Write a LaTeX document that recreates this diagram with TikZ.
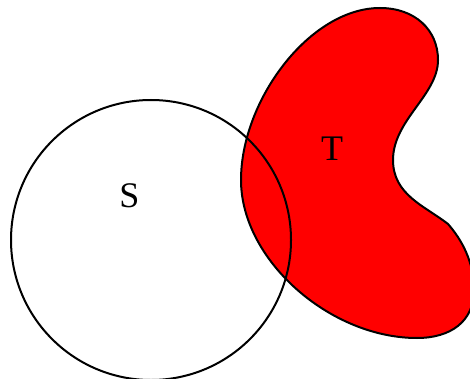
\documentclass[tikz,border=0pt]{standalone}
\usepackage{fontspec}
\setmainfont{Liberation Serif}
\usetikzlibrary{positioning}

\begin{document}
\begin{tikzpicture}[x=1pt,y=-1pt,
    setline/.style={line width=2pt},
    setlabel/.style={font=\fontsize{36}{42}\selectfont, inner sep=0pt}]
\useasboundingbox (0,0) rectangle (470,379);

% Set T (filled blob)
\draw[setline, fill=red] (241,180)
  .. controls (241,100) and (310,8) .. (380,8)
  .. controls (415,8) and (438,30) .. (438,60)
  .. controls (438,95) and (393,120) .. (393,160)
  .. controls (393,195) and (425,206) .. (448,224)
  .. controls (462,240) and (474,262) .. (474,290)
  .. controls (474,322) and (450,338) .. (417,338)
  .. controls (330,338) and (241,260) .. cycle;

% Set S (circle)
\draw[setline] (151,240) circle (140);

% Labels
\node[setlabel] (labelS) at (129.5,196) {S};
\node[setlabel] (labelT) at (332,149) {T};
\end{tikzpicture}
\end{document}
